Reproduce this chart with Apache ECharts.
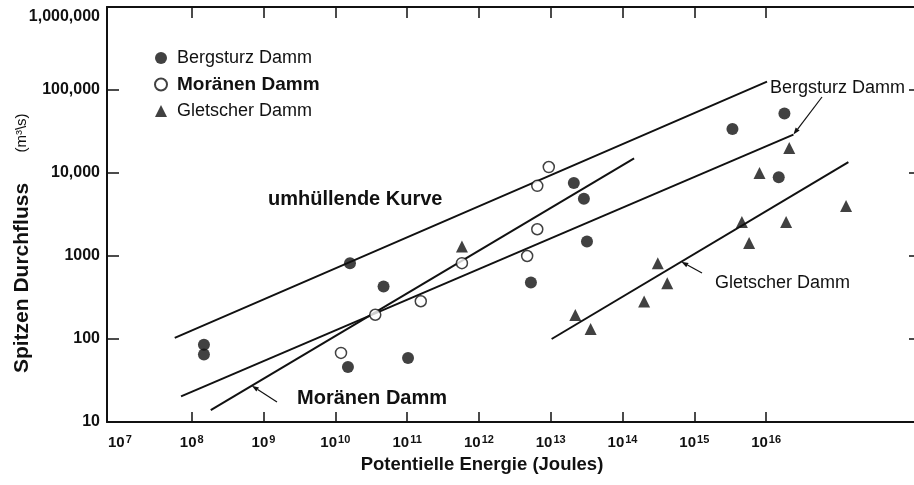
<!DOCTYPE html>
<html><head><meta charset="utf-8">
<script src="https://cdn.jsdelivr.net/npm/echarts@6/dist/echarts.min.js"></script>
<style>html,body{margin:0;padding:0;background:#fff}#c{width:914px;height:485px}</style>
</head><body><div id="c"></div>
<script>
// ---- tick values / labels ----
const xTickValues = [1e7, 1e8, 1e9, 1e10, 1e11, 1e12, 1e13, 1e14, 1e15, 1e16];
const yTickValues = [10, 100, 1000, 1e4, 1e5, 1e6];
const yTickLabels = ['10', '100', '1000', '10,000', '100,000', '1,000,000'];

// ---- series (Potentielle Energie in Joules, Spitzen Durchfluss in m3/s) ----
const seriesNames = ['Bergsturz Damm', 'Moränen Damm', 'Gletscher Damm'];
const bergsturzX = [1.48e8, 1.48e8, 1.6e10, 4.7e10, 1.5e10, 1.03e11, 5.3e12, 2.1e13, 2.9e13, 3.2e13, 3.4e15, 1.8e16, 1.5e16];
const bergsturzY = [85, 65, 820, 430, 46, 59, 480, 7600, 4900, 1500, 34000, 52000, 8900];
const moraenenX = [1.2e10, 3.6e10, 1.55e11, 5.8e11, 4.7e12, 6.5e12, 6.5e12, 9.4e12];
const moraenenY = [68, 196, 285, 820, 1000, 2100, 7000, 11800];
const gletscherX = [5.8e11, 2.2e13, 3.6e13, 2e14, 3.1e14, 4.2e14, 4.6e15, 5.8e15, 8.1e15, 1.9e16, 2.1e16, 1.3e17];
const gletscherY = [1300, 195, 132, 283, 820, 470, 2570, 1430, 10000, 2570, 20000, 4000];

// ---- fitted / envelope lines (start, end) ----
const envelopeX = [5.8e7, 1.03e16], envelopeY = [103, 126000];
const bergLineX = [7.1e7, 2.4e16], bergLineY = [20.4, 29000];
const morLineX = [1.84e8, 1.45e14], morLineY = [13.9, 15000];
const gletLineX = [1.03e13, 1.4e17], gletLineY = [100, 13500];

const FONT = "'Liberation Sans', Arial, Helvetica, sans-serif";
const INK = '#111';
const zip = (xs, ys) => xs.map((x, i) => [x, ys[i]]);
const XMIN = Math.pow(10, 6.82), XMAX = Math.pow(10, 18.06);

const chart = echarts.init(document.getElementById('c'), null, {renderer: 'canvas'});

const lineSeries = (name, xs, ys) => ({
  name, type: 'line', data: zip(xs, ys), symbol: 'none', silent: true, z: 2,
  lineStyle: {color: INK, width: 2}
});

const option = {
  animation: false,
  backgroundColor: '#fff',
  textStyle: {fontFamily: FONT, color: INK},
  grid: {left: 107, right: 0, top: 7, bottom: 63, containLabel: false, outerBoundsMode: 'none'},
  xAxis: [{
    type: 'log', min: XMIN, max: XMAX, position: 'bottom',
    axisLine: {lineStyle: {color: INK, width: 2}},
    axisTick: {inside: true, length: 10, customValues: xTickValues.slice(1), lineStyle: {color: INK, width: 1.5}},
    axisLabel: {
      customValues: xTickValues, margin: 12,
      formatter: v => '{b|10}{s|' + Math.round(Math.log10(v)) + '}',
      rich: {
        b: {fontSize: 15, fontWeight: 'bold', color: INK, fontFamily: FONT},
        s: {fontSize: 11, fontWeight: 'bold', color: INK, fontFamily: FONT, padding: [0, 0, 7, 1]}
      }
    },
    splitLine: {show: false},
    name: 'Potentielle Energie (Joules)', nameLocation: 'middle', nameGap: 33, nameMoveOverlap: false,
    nameTextStyle: {fontFamily: FONT, fontSize: 18.5, fontWeight: 'bold', color: INK, padding: [0, 57, 0, 0]}
  }, {
    type: 'log', min: XMIN, max: XMAX, position: 'top',
    axisLine: {lineStyle: {color: INK, width: 2}},
    axisTick: {inside: true, length: 11, customValues: xTickValues.slice(1), lineStyle: {color: INK, width: 1.5}},
    axisLabel: {show: false}, splitLine: {show: false}
  }],
  yAxis: [{
    type: 'log', min: 10, max: 1e6, position: 'left',
    axisLine: {lineStyle: {color: INK, width: 2}},
    axisTick: {inside: true, length: 12, customValues: yTickValues.slice(1, 5), lineStyle: {color: INK, width: 1.5}},
    axisLabel: {
      customValues: yTickValues, margin: 7, fontSize: 16, fontWeight: 'bold', color: INK,
      formatter: v => {
        const i = yTickValues.findIndex(t => Math.abs(Math.log10(t) - Math.log10(v)) < 1e-6);
        const s = i >= 0 ? yTickLabels[i] : '';
        return v >= 1e6 * 0.999 ? '{t|' + s + '}' : s;
      },
      rich: {t: {fontSize: 16, fontWeight: 'bold', color: INK, padding: [19, 0, 0, 0]}}
    },
    splitLine: {show: false},
    name: 'Spitzen Durchfluss', nameLocation: 'middle', nameGap: 74, nameMoveOverlap: false,
    nameTextStyle: {fontFamily: FONT, fontSize: 21, fontWeight: 'bold', color: INK, padding: [0, 127, 0, 0]}
  }, {
    type: 'log', min: 10, max: 1e6, position: 'right',
    axisLine: {show: false},
    axisTick: {inside: true, length: 5, customValues: yTickValues.slice(1, 5), lineStyle: {color: INK, width: 1.5}},
    axisLabel: {show: false}, splitLine: {show: false}
  }],
  legend: {
    orient: 'vertical', left: 149, top: 44, itemWidth: 12, itemHeight: 12, itemGap: 8,
    textStyle: {fontSize: 18, color: INK, fontFamily: FONT, padding: [0, 0, 0, 5]},
    selectedMode: false,
    data: [
      {name: seriesNames[0], icon: 'circle'},
      {name: seriesNames[1], icon: 'circle', textStyle: {fontWeight: 'bold', fontSize: 19}},
      {name: seriesNames[2], icon: 'triangle'}
    ]
  },
  series: [
    lineSeries('umhüllende Kurve', envelopeX, envelopeY),
    lineSeries('Bergsturz Damm Linie', bergLineX, bergLineY),
    lineSeries('Moränen Damm Linie', morLineX, morLineY),
    lineSeries('Gletscher Damm Linie', gletLineX, gletLineY),
    {name: seriesNames[0], type: 'scatter', symbol: 'circle', symbolSize: 12, z: 5,
     itemStyle: {color: INK}, data: zip(bergsturzX, bergsturzY)},
    {name: seriesNames[1], type: 'scatter', symbol: 'circle', symbolSize: 11, z: 5,
     itemStyle: {color: '#fff', borderColor: INK, borderWidth: 1.5}, data: zip(moraenenX, moraenenY)},
    {name: seriesNames[2], type: 'scatter', symbol: 'triangle', symbolSize: 12, z: 5,
     itemStyle: {color: INK}, data: zip(gletscherX, gletscherY)}
  ]
};
chart.setOption(option);

// ---- annotations with leader arrows pointing at the drawn lines ----
const alongLine = (xs, ys, t) => [
  Math.pow(10, Math.log10(xs[0]) + t * (Math.log10(xs[1]) - Math.log10(xs[0]))),
  Math.pow(10, Math.log10(ys[0]) + t * (Math.log10(ys[1]) - Math.log10(ys[0])))
];
const annotations = [
  {text: 'umhüllende Kurve', font: 'bold 20px ' + FONT, x: 268, y: 199},
  {text: 'Moränen Damm', font: 'bold 20px ' + FONT, x: 297, y: 398, tip: alongLine(morLineX, morLineY, 0.097), tail: [277, 402]},
  {text: 'Bergsturz Damm', font: '18px ' + FONT, x: 770, y: 88, tip: alongLine(bergLineX, bergLineY, 1.0), tail: [822, 97]},
  {text: 'Gletscher Damm', font: '18px ' + FONT, x: 715, y: 283, tip: alongLine(gletLineX, gletLineY, 0.437), tail: [702, 273]}
];
const graphics = [];
annotations.forEach(a => {
  graphics.push({type: 'text', x: a.x, y: a.y, silent: true,
    style: {text: a.text, font: a.font, fill: INK, align: 'left', verticalAlign: 'middle'}});
  if (a.tip) {
    const p = chart.convertToPixel({xAxisIndex: 0, yAxisIndex: 0}, a.tip);
    const dx = p[0] - a.tail[0], dy = p[1] - a.tail[1];
    const len = Math.hypot(dx, dy), ux = dx / len, uy = dy / len;
    const bx = p[0] - ux * 7, by = p[1] - uy * 7;
    graphics.push({type: 'line', silent: true, shape: {x1: a.tail[0], y1: a.tail[1], x2: bx, y2: by},
      style: {stroke: INK, lineWidth: 1.2}});
    graphics.push({type: 'polygon', silent: true,
      shape: {points: [[p[0], p[1]], [bx - uy * 2.5, by + ux * 2.5], [bx + uy * 2.5, by - ux * 2.5]]},
      style: {fill: INK}});
  }
});
graphics.push({type: 'text', x: 22, y: 133, rotation: Math.PI / 2, silent: true,
  style: {text: '(m³\\s)', font: '15px ' + FONT, fill: INK, align: 'center', verticalAlign: 'middle'}});
chart.setOption({graphic: graphics});
</script>
</body></html>
